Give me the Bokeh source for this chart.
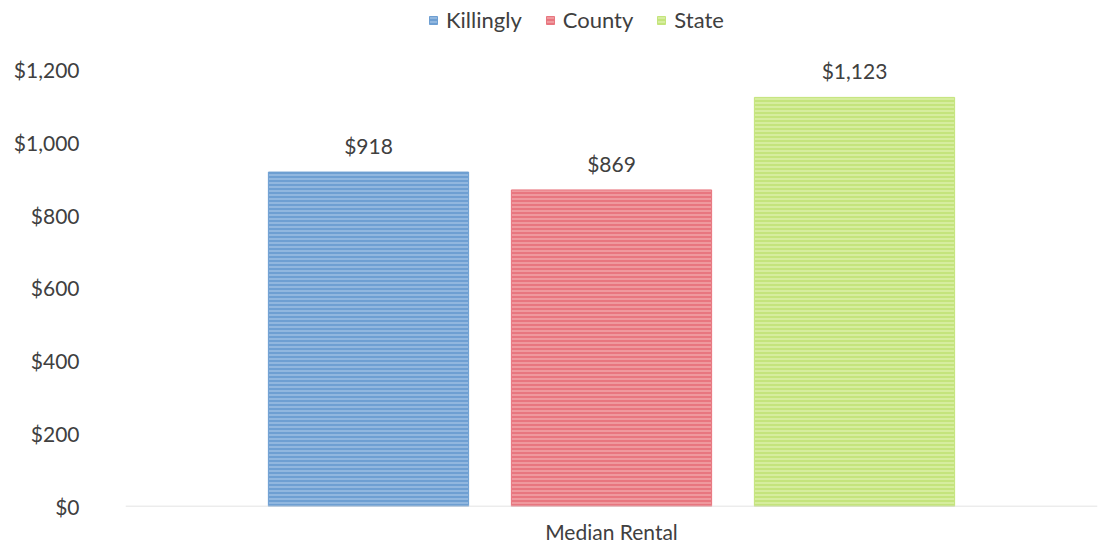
from bokeh.plotting import figure
from bokeh.models import ColumnDataSource, FactorRange, Range1d, NumeralTickFormatter, Legend, LegendItem, LabelSet, Span
from bokeh.core.properties import value
from bokeh.transform import dodge
from bokeh.embed import file_html
from bokeh.resources import INLINE

category = ["Median Rental"]
series = ["Killingly", "County", "State"]
values = [918, 869, 1123]
labels = ["$918", "$869", "$1,123"]
colors = ["#6e9fd2", "#e8767f", "#c4e47c"]
hatch_colors = ["#a9c8e8", "#f3b0b4", "#e2f3b5"]
offsets = [-0.25, 0.0, 0.25]
y_ticks = [0, 200, 400, 600, 800, 1000, 1200]

FONT = "Lato"

p = figure(x_range=FactorRange(*category, range_padding=0), y_range=Range1d(0, 1378),
           width=1105, height=548, output_backend="svg", toolbar_location=None,
           min_border_left=125, min_border_right=8, min_border_top=4, min_border_bottom=42)
p.outline_line_color = None
p.xgrid.grid_line_color = None
p.ygrid.grid_line_color = None

items = []
for i, s in enumerate(series):
    src = ColumnDataSource(dict(x=category, top=[values[i]], lab=[labels[i]]))
    r = p.vbar(x=dodge("x", offsets[i], range=p.x_range), top="top", width=0.206, source=src,
               fill_color=colors[i], line_color=colors[i], line_width=1,
               hatch_pattern="horizontal_line", hatch_color=hatch_colors[i],
               hatch_scale=4, hatch_weight=1.2)
    items.append(LegendItem(label=s, renderers=[r]))
    ls = LabelSet(x=dodge("x", offsets[i], range=p.x_range), y="top", text="lab", source=src,
                  text_align="center", text_baseline="bottom", y_offset=14,
                  text_font=value(FONT), text_font_size=value("21px"), text_color="#404040")
    p.add_layout(ls)

base = Span(location=0, dimension="width", line_color="#d9d9d9", line_width=1.5)
p.add_layout(base)

p.yaxis.ticker = y_ticks
p.yaxis.formatter = NumeralTickFormatter(format="$0,0")
p.yaxis.axis_line_color = None
p.yaxis.major_tick_line_color = None
p.yaxis.minor_tick_line_color = None
p.yaxis.major_tick_out = 0
p.yaxis.major_tick_in = 0
p.yaxis.major_label_text_font = FONT
p.yaxis.major_label_text_font_size = "21px"
p.yaxis.major_label_text_color = "#404040"
p.yaxis.major_label_standoff = 46

p.xaxis.axis_line_color = None
p.xaxis.major_tick_line_color = None
p.xaxis.minor_tick_line_color = None
p.xaxis.major_tick_out = 0
p.xaxis.major_tick_in = 0
p.xaxis.major_label_text_font = FONT
p.xaxis.major_label_text_font_size = "21px"
p.xaxis.major_label_text_color = "#404040"
p.xaxis.major_label_standoff = 12

legend = Legend(items=items, orientation="horizontal", location=(303, 473),
                label_text_font=FONT, label_text_font_size="22px", label_text_color="#404040",
                glyph_width=10, glyph_height=10, spacing=23, label_standoff=8,
                border_line_color=None, background_fill_alpha=0, padding=0, margin=0)
p.add_layout(legend)

open("out.html", "w").write(file_html(p, INLINE))
